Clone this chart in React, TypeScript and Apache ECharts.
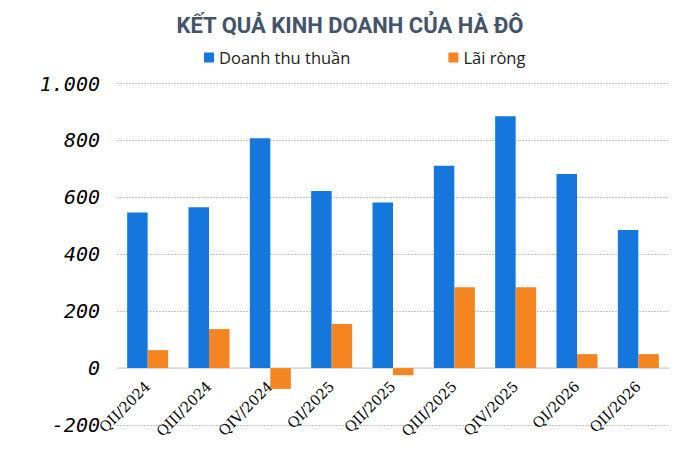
import { useRef, useEffect } from 'react'
import * as echarts from 'echarts'

const QUARTERS = ['QII/2024', 'QIII/2024', 'QIV/2024', 'QI/2025', 'QII/2025', 'QIII/2025', 'QIV/2025', 'QI/2026', 'QII/2026']
const REVENUE = [547, 565, 808, 622, 582, 711, 885, 682, 485]
const NET_PROFIT = [63, 137, -73, 155, -25, 284, 284, 49, 49]
const Y_MIN = -200
const Y_MAX = 1000
const Y_STEP = 200

const BLUE = '#1577dc'
const ORANGE = '#f58520'

function buildOption(): echarts.EChartsOption {
  return {
    animation: false,
    backgroundColor: '#ffffff',
    title: {
      text: 'KẾT QUẢ KINH DOANH CỦA HÀ ĐÔ',
      left: 'center',
      top: 9,
      textStyle: { fontFamily: 'Roboto', fontWeight: 'bold', fontSize: 22, color: '#44546a' },
    },
    legend: {
      top: 44,
      left: 199,
      itemWidth: 10,
      itemHeight: 10,
      itemGap: 98,
      icon: 'rect',
      textStyle: { fontFamily: 'Open Sans', fontSize: 16.5, color: '#222222' },
      data: ['Doanh thu thuần', 'Lãi ròng'],
    },
    grid: { left: 117, right: 31, top: 83.5, bottom: 37, containLabel: false, outerBoundsMode: 'none' } as any,
    xAxis: {
      type: 'category',
      data: QUARTERS,
      axisLine: { onZero: true, lineStyle: { color: '#d6dce5', width: 1.5 } },
      axisTick: { show: false },
      axisLabel: {
        rotate: 45,
        margin: -41,
        fontFamily: 'DejaVu Serif',
        fontSize: 14.5,
        color: '#000000',
        interval: 0,
      },
    },
    yAxis: {
      type: 'value',
      min: Y_MIN,
      max: Y_MAX,
      interval: Y_STEP,
      axisLine: { show: false },
      axisTick: { show: false },
      axisLabel: {
        margin: 17,
        fontFamily: 'DejaVu Sans Mono',
        fontStyle: 'italic',
        fontSize: 20,
        color: '#000000',
        formatter: (v: number) => (v >= 1000 ? v.toLocaleString('de-DE') : `${v}`),
      },
      splitLine: { lineStyle: { color: '#c4c4c4', type: [2, 1], width: 1 } },
    },
    series: [
      {
        name: 'Doanh thu thuần',
        type: 'bar',
        data: REVENUE,
        barWidth: 20.5,
        barGap: '0%',
        itemStyle: { color: BLUE },
      },
      {
        name: 'Lãi ròng',
        type: 'bar',
        data: NET_PROFIT,
        barWidth: 20.5,
        barGap: '0%',
        itemStyle: { color: ORANGE },
      },
    ],
  }
}

export default function App() {
  const ref = useRef<HTMLDivElement>(null)

  useEffect(() => {
    const el = ref.current
    if (!el) return
    const chart = echarts.init(el, null, { renderer: 'svg' })
    chart.setOption(buildOption())
    return () => chart.dispose()
  }, [])

  return <div ref={ref} style={{ width: 700, height: 462, margin: -8 }} />
}
